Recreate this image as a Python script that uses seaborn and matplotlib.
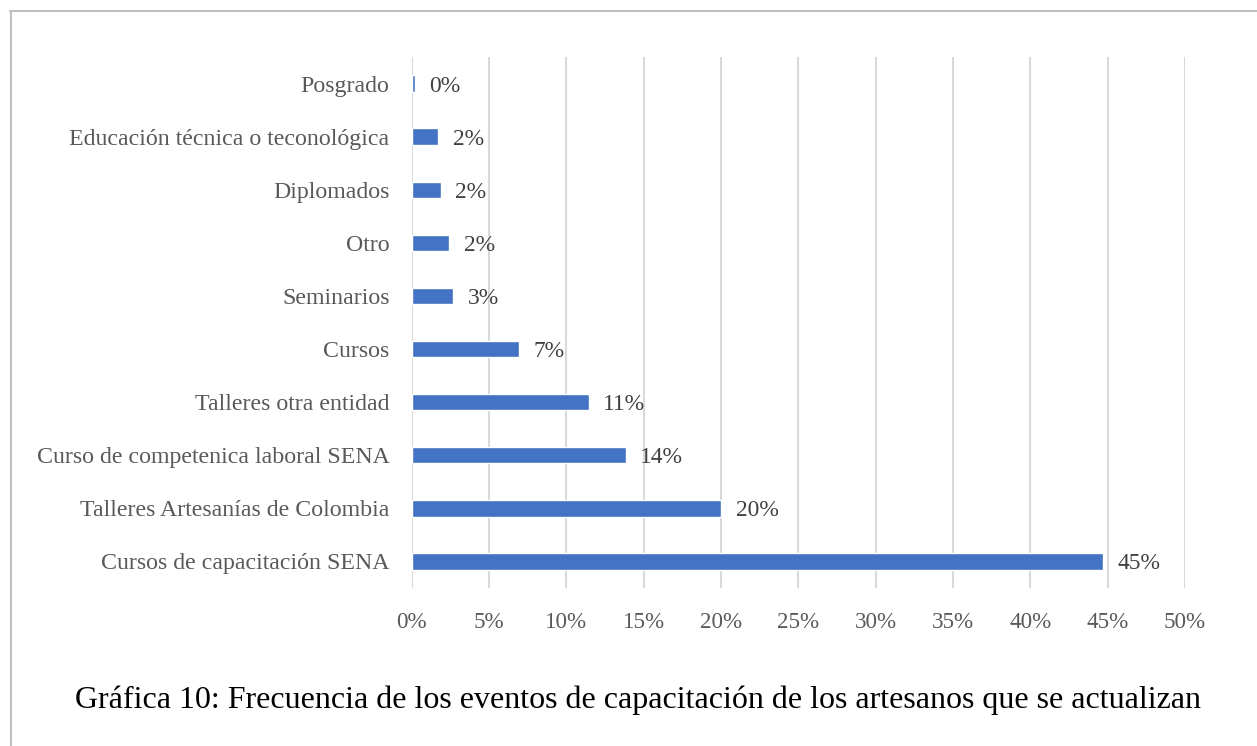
import matplotlib
matplotlib.use("Agg")
import matplotlib.pyplot as plt
import seaborn as sns
import pandas as pd
from matplotlib.lines import Line2D

categories = [
    "Posgrado",
    "Educación técnica o teconológica",
    "Diplomados",
    "Otro",
    "Seminarios",
    "Cursos",
    "Talleres otra entidad",
    "Curso de competenica laboral SENA",
    "Talleres Artesanías de Colombia",
    "Cursos de capacitación SENA",
]
values = [0.21, 1.72, 1.88, 2.42, 2.66, 6.95, 11.45, 13.84, 20.0, 44.7]
xticks = [0, 5, 10, 15, 20, 25, 30, 35, 40, 45, 50]
caption = "Gráfica 10: Frecuencia de los eventos de capacitación de los artesanos que se actualizan"

df = pd.DataFrame({"cat": categories, "val": values})

sns.set_theme(style="white")
plt.rcParams["font.family"] = ["Liberation Serif", "DejaVu Serif"]

W, H = 1257, 746
fig = plt.figure(figsize=(W / 100, H / 100), dpi=100)
ax = fig.add_axes([411.7 / W, 1 - 588 / H, (1185 - 411.7) / W, (588 - 57) / H])

sns.barplot(data=df, x="val", y="cat", order=categories, orient="h",
            color="#4472C4", width=0.31, saturation=1, ax=ax, zorder=3)

ax.set_xlim(0, 50)
ax.set_xticks(xticks)
ax.set_xticklabels([f"{t}%" for t in xticks])
ax.set_xlabel("")
ax.set_ylabel("")
ax.grid(axis="x", color="#D9D9D9", linewidth=1.5, zorder=0)
ax.grid(axis="y", visible=False)
for s in ax.spines.values():
    s.set_visible(False)
ax.tick_params(axis="both", length=0, labelcolor="#595959")
ax.tick_params(axis="y", pad=16, labelsize=17.2)
ax.tick_params(axis="x", pad=17, labelsize=16.6)

labels = [f"{v:.0f}%" for v in values]
texts = ax.bar_label(ax.containers[0], labels=labels, padding=10.5, fontsize=16.9,
                     color="#404040")
for t in texts:
    t.set_verticalalignment("center_baseline")

fig.text(638 / W, 1 - 700 / H, caption, ha="center", va="center",
         fontsize=23, color="black")

fig.add_artist(Line2D([10 / W, 1], [1 - 10.5 / H, 1 - 10.5 / H], transform=fig.transFigure,
                      color="#BFBFBF", linewidth=1.5))
fig.add_artist(Line2D([10.5 / W, 10.5 / W], [0, 1 - 10.5 / H], transform=fig.transFigure,
                      color="#BFBFBF", linewidth=1.5))

fig.savefig("out.png", dpi=100, facecolor="white")
